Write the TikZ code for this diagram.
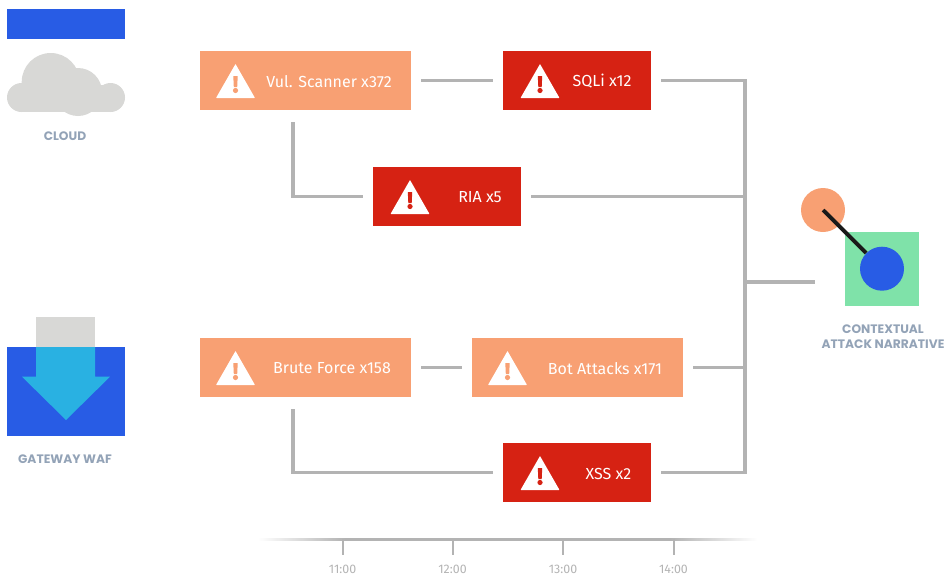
\documentclass[tikz,border=0pt]{standalone}
\usepackage{fontspec}
\setmainfont{Fira Sans}
\newfontfamily\capfont{Poppins}
\usetikzlibrary{calc}
\definecolor{cOrange}{HTML}{F8A073}
\definecolor{cRed}{HTML}{D62213}
\definecolor{cBlue}{HTML}{285CE5}
\definecolor{cGreen}{HTML}{7FE2A9}
\definecolor{cSky}{HTML}{29B1E2}
\definecolor{cCloud}{HTML}{D8D8D6}
\definecolor{cLine}{HTML}{B3B3B3}
\definecolor{cCap}{HTML}{93A3B7}
\definecolor{cTime}{HTML}{B4B4B4}
\tikzset{
  x=0.75pt,y=-0.75pt,
  box/.style={anchor=north west,inner sep=0,outer sep=0,minimum height=44.25pt},
  wide/.style={box,minimum width=158.25pt},
  narrow/.style={box,minimum width=111pt},
  soft/.style={fill=cOrange},
  hard/.style={fill=cRed},
  boxtext/.style={text=white,font=\fontsize{12}{14}\selectfont,inner sep=0},
  bus/.style={draw=cLine,line width=2.7pt},
  link/.style={bus,shorten <=7.5pt,shorten >=7.5pt},
  caption/.style={text=cCap,font=\capfont\bfseries\fontsize{9.2}{11.2}\selectfont,inner sep=0,align=center},
  timelabel/.style={text=cTime,font=\fontsize{9.3}{11}\selectfont,inner sep=0},
  tick/.style={draw=cLine,line width=1.5pt},
  warn/.pic={
    \fill[white,rounded corners=0.4pt] (0,-17) -- (19.5,17) -- (-19.5,17) -- cycle;
    \fill[pic actions] (-2.2,-5) -- (2.2,-5) -- (1.7,6) -- (-1.7,6) -- cycle;
    \fill[pic actions] (0,9.5) circle (2.6);
  }
}
\begin{document}
\begin{tikzpicture}
\useasboundingbox (0,0) rectangle (944,575);
% cloud
\node[fill=cBlue,anchor=north west,inner sep=0,minimum width=88.5pt,minimum height=22.5pt] (topbar) at (7,9) {};
\fill[cCloud] (21.5,97.5) circle (14.5);
\fill[cCloud] (110.5,97.5) circle (14.5);
\fill[cCloud] (50.7,82) circle (29);
\fill[cCloud] (78,92) circle (24);
\fill[cCloud] (21.5,85) rectangle (110.5,112);
\node[caption] (cloudcap) at (65,136.2) {CLOUD};
% waf
\node[fill=cBlue,anchor=north west,inner sep=0,minimum width=88.5pt,minimum height=66.75pt] (wafbox) at (7,347) {};
\fill[cCloud] (36,317) rectangle (95,347);
\fill[cSky] (36,347) -- (95,347) -- (95,376.7) -- (110,376.7) -- (66,420) -- (22,376.7) -- (36,376.7) -- cycle;
\node[caption] (wafcap) at (65,459.5) {GATEWAY WAF};
% boxes
\node[wide,soft] (vul) at (200,51) {};
\node[narrow,hard] (sqli) at (503,51) {};
\node[narrow,hard] (ria) at (373,167) {};
\node[wide,soft] (brute) at (200,338) {};
\node[wide,soft] (bot) at (472,338) {};
\node[narrow,hard] (xss) at (503,443) {};
\pic[fill=cOrange] at (235.5,81) {warn};
\pic[fill=cRed] at (540,81) {warn};
\pic[fill=cRed] at (410,197) {warn};
\pic[fill=cOrange] at (235.5,368) {warn};
\pic[fill=cOrange] at (507.5,368) {warn};
\pic[fill=cRed] at (540,473) {warn};
\node[boxtext] (vult) at (329,81.5) {Vul. Scanner x372};
\node[boxtext] (sqlit) at (602,81.5) {SQLi x12};
\node[boxtext] (riat) at (480,197.5) {RIA x5};
\node[boxtext] (brutet) at (332,368.5) {Brute Force x158};
\node[boxtext] (bott) at (605,368.5) {Bot Attacks x171};
\node[boxtext] (xsst) at (608.5,473.5) {XSS x2};
% narrative
\node[fill=cGreen,anchor=north west,inner sep=0,minimum width=55.5pt,minimum height=55.5pt] (goal) at (845,232) {};
\node[circle,fill=cOrange,inner sep=0,minimum size=33pt] (orangedot) at (823,210) {};
\node[circle,fill=cBlue,inner sep=0,minimum size=33pt] (bluedot) at (882,268.7) {};
\draw[black!90,line width=2.9pt] (orangedot.center) -- (bluedot);
\node[caption] (goalcap) at (883,337) {CONTEXTUAL\\ATTACK NARRATIVE};
% connectors
\draw[link] (vul.east) -- (vul.east -| sqli.west);
\draw[link] (brute.east) -- (brute.east -| bot.west);
\coordinate (vulport) at (292.7,110);
\coordinate (bruteport) at (292.7,397);
\draw[link,shorten <=9pt] (vulport) |- (ria.west);
\draw[link,shorten <=9pt] (bruteport) |- (xss.west);
\coordinate (trunk) at (745,0);
\draw[link] (sqli.east) -- (sqli.east -| trunk) -- (xss.east -| trunk) -- (xss.east);
\draw[bus,shorten <=7.5pt] (ria.east) -- (ria.east -| trunk);
\draw[bus,shorten <=7.5pt] (bot.east) -- (bot.east -| trunk);
\coordinate (busmid) at (745,282);
\draw[bus,shorten >=22.5pt] (busmid) -- (busmid -| goal.west);
% timeline
\shade[left color=white,right color=cLine,draw=none] (258,538) rectangle (345,540.5);
\fill[cLine] (345,538) rectangle (670,540.5);
\shade[left color=cLine,right color=white,draw=none] (670,538) rectangle (757,540.5);
\node[timelabel] (t11) at (342.5,569.5) {11:00};
\node[timelabel] (t12) at (452.5,569.5) {12:00};
\node[timelabel] (t13) at (563,569.5) {13:00};
\node[timelabel] (t14) at (673.5,569.5) {14:00};
\foreach \t in {t11,t12,t13,t14} \draw[tick] (\t.north |- 0,539) -- (\t.north |- 0,555);
\end{tikzpicture}
\end{document}
